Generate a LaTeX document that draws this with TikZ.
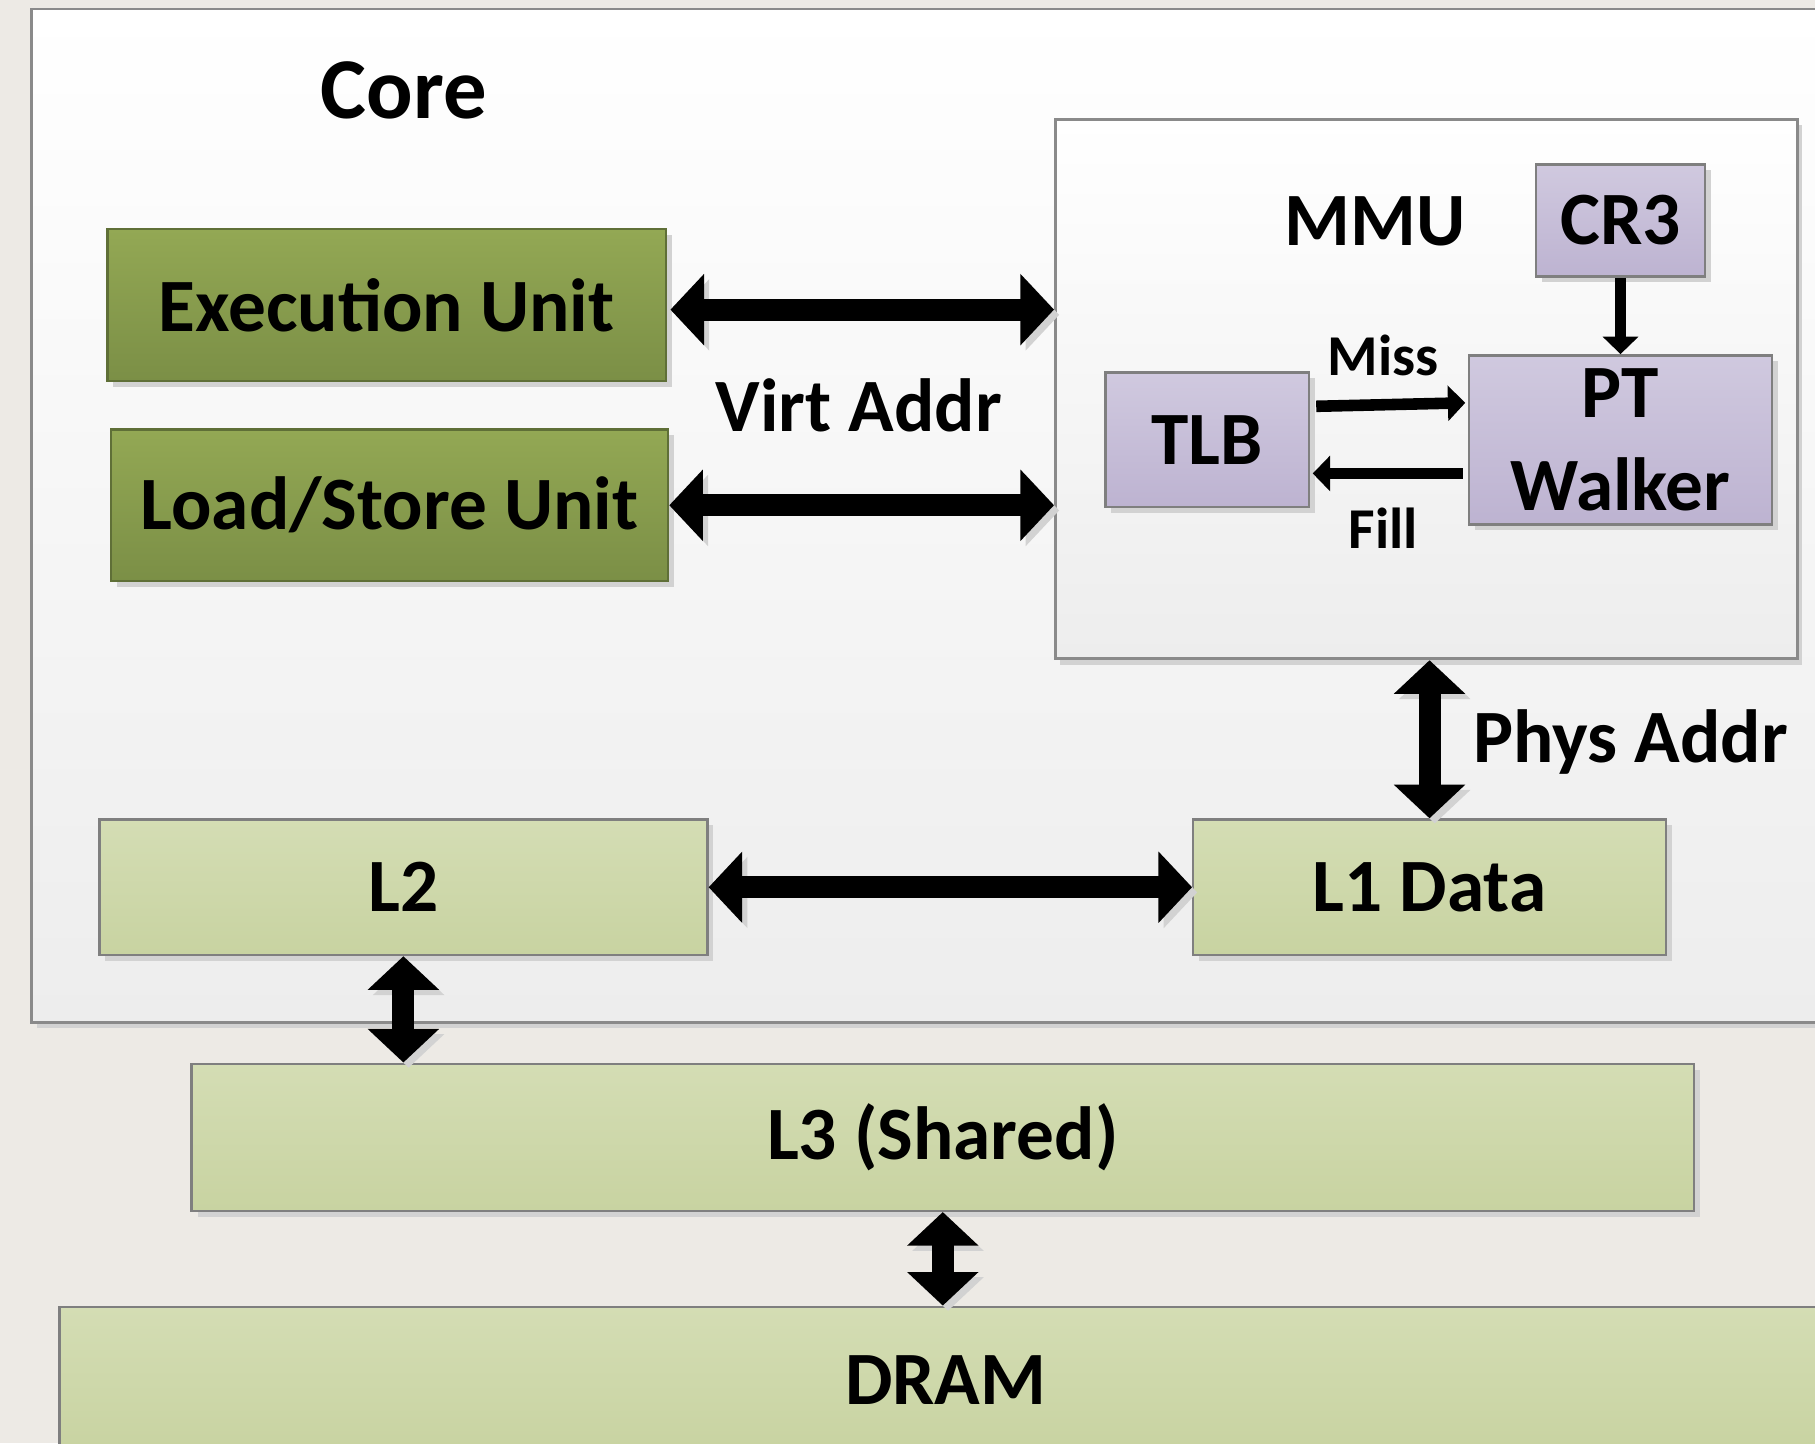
\documentclass[tikz,border=0pt]{standalone}
\usepackage{fontspec}
\setmainfont{Carlito}
\usetikzlibrary{arrows.meta,shadows}
\definecolor{bgc}{HTML}{EDEAE5}
\definecolor{bordc}{HTML}{7F7F7F}
\definecolor{shadc}{HTML}{D2D2D2}
\definecolor{dgone}{HTML}{93A854}
\definecolor{dgtwo}{HTML}{7B8F46}
\definecolor{dgb}{HTML}{5F6F37}
\definecolor{lgone}{HTML}{D4DDB4}
\definecolor{lgtwo}{HTML}{C8D3A1}
\definecolor{puone}{HTML}{D0C9DF}
\definecolor{putwo}{HTML}{BDB3D1}
\definecolor{frtwo}{HTML}{EDEDED}
\definecolor{frc}{HTML}{8A8A8A}
\begin{document}
\begin{tikzpicture}[x=0.01cm,y=-0.01cm,
  boxbase/.style={draw=bordc, line width=0.6pt, inner sep=0pt, align=center,
    font=\fontsize{18.5}{21.6}\selectfont\bfseries,
    drop shadow={shadow xshift=0.05cm, shadow yshift=-0.05cm, fill=shadc, opacity=1}},
  dgreen/.style={boxbase, top color=dgone, bottom color=dgtwo, draw=dgb},
  lgreen/.style={boxbase, top color=lgone, bottom color=lgtwo},
  purp/.style={boxbase, top color=puone, bottom color=putwo},
  framebox/.style={draw=frc, line width=0.7pt, top color=white, bottom color=frtwo, inner sep=0pt,
    drop shadow={shadow xshift=0.04cm, shadow yshift=-0.05cm, fill=shadc, opacity=1}},
  lbl/.style={font=\fontsize{18.5}{21.6}\selectfont\bfseries, inner sep=0pt},
  smalllbl/.style={font=\fontsize{14.2}{16}\selectfont\bfseries, inner sep=0pt},
  arrowshadow/.style={preaction={draw=shadc, transform canvas={shift={(0.045cm,-0.045cm)}}}},
  bigarrow/.style={arrowshadow, line width=0.19cm,
    {Triangle[length=0.29cm,width=0.60cm]}-{Triangle[length=0.29cm,width=0.60cm]}},
  smallarrow/.style={line width=0.10cm, -{Triangle[length=0.15cm,width=0.30cm]}}
]
\clip (0,0) rectangle (1568,1247);
\fill[bgc] (0,0) rectangle (1568,1247);

% frames
\node[framebox, minimum width=15.62cm, minimum height=8.75cm] (core) at (809,445.5) {};
\node[font=\fontsize{21.3}{24}\selectfont\bfseries, inner sep=0pt, anchor=base] (corelabel) at (349,102) {Core};
\node[framebox, minimum width=6.41cm, minimum height=4.66cm] (mmu) at (1232.5,336) {};
\node[lbl, anchor=base] (mmulabel) at (1188,212.5) {MMU};

% units
\node[dgreen, minimum width=4.82cm, minimum height=1.31cm] (exec) at (334,263.5) {Execution Unit};
\node[dgreen, minimum width=4.81cm, minimum height=1.31cm] (ls) at (336.5,436.5) {Load/Store Unit};
\node[lbl, anchor=base] (virt) at (742,372.5) {Virt Addr};

% MMU internals
\node[purp, minimum width=1.46cm, minimum height=0.97cm] (cr3) at (1400,190.5) {CR3};
\node[purp, minimum width=2.62cm, minimum height=1.46cm] (pt) at (1400,380) {PT\\[0.05cm]Walker};
\node[purp, minimum width=1.76cm, minimum height=1.16cm] (tlb) at (1043,380) {TLB};
\node[smalllbl, anchor=base] (miss) at (1195,324) {Miss};
\node[smalllbl, anchor=base] (fill) at (1195,474) {Fill};

% caches
\node[lgreen, minimum width=5.25cm, minimum height=1.17cm] (l2) at (348.5,766.5) {L2};
\node[lgreen, minimum width=4.08cm, minimum height=1.17cm] (l1) at (1235,766.5) {L1 Data};
\node[lgreen, minimum width=12.97cm, minimum height=1.27cm] (l3) at (814.5,982.5) {L3 (Shared)};
\node[lgreen, minimum width=15.30cm, minimum height=1.26cm] (dram) at (817,1192) {DRAM};
\node[lbl, anchor=base west] (phys) at (1272,659) {Phys Addr};

% connectors
\draw[bigarrow] ([shift={(3,4)}]exec.east) -- ([shift={(0,4)}]exec.east -| mmu.west);
\draw[bigarrow] (ls.east) -- (ls.east -| mmu.west);
\draw[bigarrow] (l1.north |- mmu.south) -- (l1.north);
\draw[bigarrow] (l2.east) -- (l1.west);
\draw[bigarrow] (l2.south) -- (l2.south |- l3.north);
\draw[bigarrow] (l3.south) -- (l3.south |- dram.north);
\draw[smallarrow] (cr3.south) -- (pt.north);
\draw[smallarrow] ([shift={(5,-29)}]tlb.east) -- ([shift={(-2,-32)}]pt.west);
\draw[smallarrow] ([shift={(-4,29)}]pt.west) -- ([shift={(2,29)}]tlb.east);
\end{tikzpicture}
\end{document}
